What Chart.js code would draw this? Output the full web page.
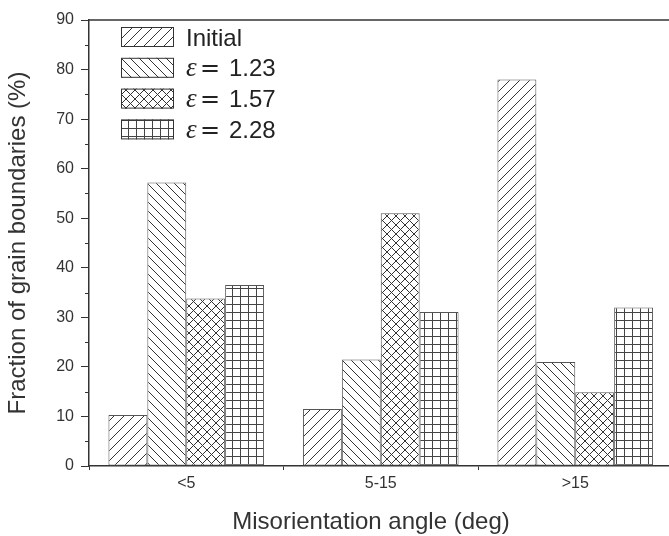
<!DOCTYPE html>
<html>
<head>
<meta charset="utf-8">
<script src="https://cdn.jsdelivr.net/npm/chart.js@4.4.0/dist/chart.umd.min.js"></script>
<style>
  html, body { margin: 0; padding: 0; background: #fff; overflow: hidden; }
  #wrap { width: 700px; height: 536px; }
</style>
</head>
<body>
<div id="wrap"><canvas id="chart"></canvas></div>
<script>
// data
const categories = ['<5', '5-15', '>15'];
const seriesLabels = ['Initial', 'ε = 1.23', 'ε = 1.57', 'ε = 2.28'];
const initial = [10.3, 11.5, 78.0];
const strain123 = [57.2, 21.5, 21.0];
const strain157 = [33.8, 51.0, 14.9];
const strain228 = [36.5, 31.1, 32.0];
const yMin = 0;
const yMax = 90;
const yStep = 10;
const yMinorStep = 5;
const xTitle = 'Misorientation angle (deg)';

const SANS = "'Liberation Sans', Arial, sans-serif";
const INK = '#333';

// hatch fills
function hatch(kind, size) {
  const c = document.createElement('canvas');
  c.width = size;
  c.height = size;
  const g = c.getContext('2d');
  g.fillStyle = '#fff';
  g.fillRect(0, 0, size, size);
  g.strokeStyle = '#333';
  g.fillStyle = '#444';
  g.lineWidth = 1;
  g.beginPath();
  if (kind === 'fwd' || kind === 'cross') {
    for (const k of [-size, 0, size]) {
      g.moveTo(k, size);
      g.lineTo(k + size, 0);
    }
  }
  if (kind === 'back' || kind === 'cross') {
    for (const k of [-size, 0, size]) {
      g.moveTo(k, 0);
      g.lineTo(k + size, size);
    }
  }
  g.stroke();
  if (kind === 'grid') {
    g.fillRect(0, 0, 1, size);
    g.fillRect(0, 0, size, 1);
  }
  const ctx = document.createElement('canvas').getContext('2d');
  return ctx.createPattern(c, 'repeat');
}

const fills = [hatch('fwd', 10), hatch('back', 9), hatch('cross', 9), hatch('grid', 8)];
const values = [initial, strain123, strain157, strain228];

const datasets = values.map((v, i) => ({
  label: seriesLabels[i],
  data: v,
  backgroundColor: fills[i],
  borderColor: '#555',
  borderWidth: 1,
  borderSkipped: false,
  categoryPercentage: 0.8,
  barPercentage: 1.0
}));

const frame = {
  id: 'frame',
  afterDraw(chart) {
    const { ctx, chartArea } = chart;
    const ys = chart.scales.y;
    ctx.save();
    ctx.strokeStyle = INK;
    // top border
    ctx.lineWidth = 1.5;
    ctx.beginPath();
    ctx.moveTo(chartArea.left, chartArea.top);
    ctx.lineTo(chartArea.right, chartArea.top);
    ctx.stroke();
    // minor ticks on y
    ctx.lineWidth = 1;
    ctx.beginPath();
    for (let v = yMin + yMinorStep; v < yMax; v += yStep) {
      const y = Math.round(ys.getPixelForValue(v)) + 0.5;
      ctx.moveTo(chartArea.left - 4, y);
      ctx.lineTo(chartArea.left, y);
    }
    ctx.stroke();

    // x axis title (the plot runs past the right edge of the picture)
    ctx.fillStyle = INK;
    ctx.font = '24px ' + SANS;
    ctx.textAlign = 'center';
    ctx.textBaseline = 'middle';
    ctx.fillText(xTitle, 371, 522);

    // legend with hatched boxes
    chart.data.datasets.forEach((ds, i) => {
      const x = 121, y = 27 + i * 30.8, w = 53, h = 20;
      ctx.fillStyle = ds.backgroundColor;
      ctx.fillRect(x, y, w, h);
      ctx.strokeStyle = INK;
      ctx.lineWidth = 1;
      ctx.strokeRect(x + 0.5, y + 0.5, w - 1, h - 1);
      const base = y + h / 2 + 8.6;
      ctx.fillStyle = '#222';
      ctx.textBaseline = 'alphabetic';
      ctx.textAlign = 'left';
      const parts = ds.label.split(' = ');
      if (parts.length === 2) {
        ctx.font = "italic 27px 'Liberation Serif', serif";
        ctx.fillText(parts[0], 186, base);
        ctx.font = "24px 'DejaVu Sans', sans-serif";
        ctx.fillText('=', 200, base);
        ctx.font = '24px ' + SANS;
        ctx.fillText(parts[1], 229, base);
      } else {
        ctx.font = '24px ' + SANS;
        ctx.fillText(ds.label, 186, base);
      }
    });
    ctx.restore();
  }
};

new Chart(document.getElementById('chart'), {
  type: 'bar',
  data: { labels: categories, datasets },
  plugins: [frame],
  options: {
    responsive: true,
    maintainAspectRatio: false,
    animation: false,
    layout: { padding: { top: 20, right: 27.5, left: 0, bottom: 0 } },
    plugins: {
      legend: { display: false },
      tooltip: { enabled: false }
    },
    scales: {
      x: {
        offset: true,
        grid: { drawOnChartArea: false, drawTicks: true, tickLength: 4, color: INK, offset: true },
        border: { color: INK, width: 1.5 },
        ticks: { padding: 4, color: INK, font: { family: SANS, size: 16 } },
        title: { display: false },
        afterFit(scale) { scale.height = 70; }
      },
      y: {
        min: yMin,
        max: yMax,
        grid: { drawOnChartArea: false, tickLength: 8, color: INK },
        border: { color: INK, width: 1.5 },
        ticks: { stepSize: yStep, padding: 7, color: INK, font: { family: SANS, size: 16 } },
        title: {
          display: true,
          text: 'Fraction of grain boundaries (%)',
          color: INK,
          font: { family: SANS, size: 24, lineHeight: 1 },
          padding: { top: 6, bottom: 0 }
        },
        afterFit(scale) { scale.width = 89; }
      }
    }
  }
});
</script>
</body>
</html>
